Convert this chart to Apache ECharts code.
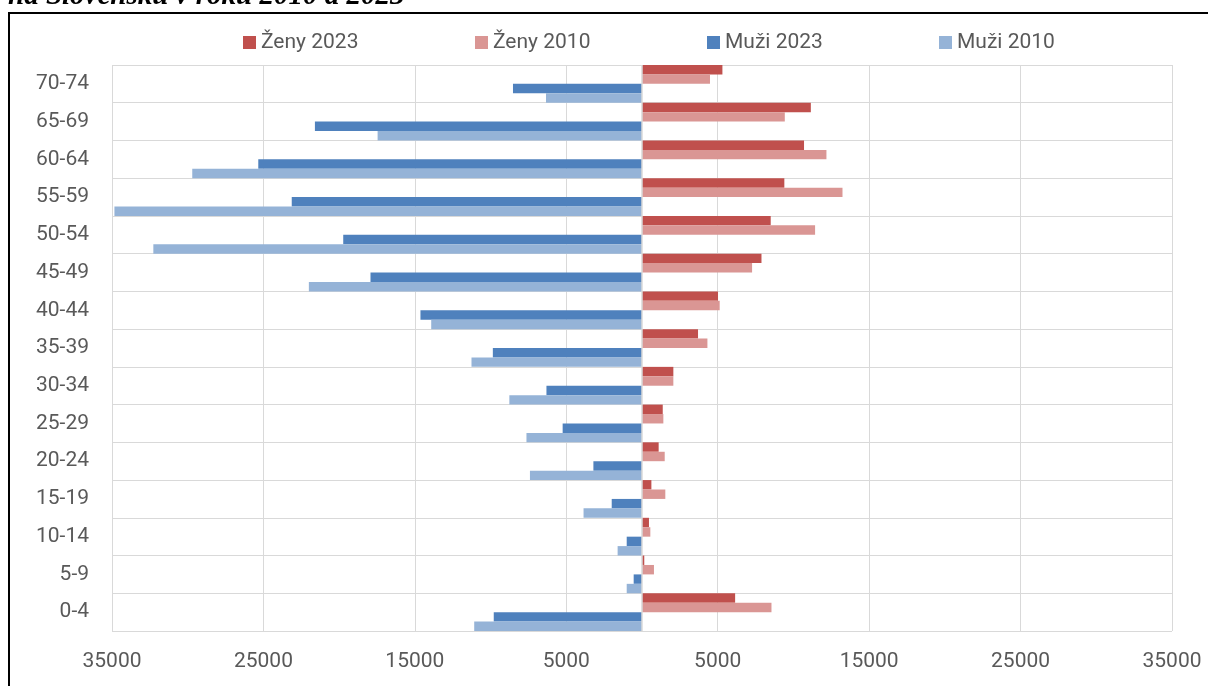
<!DOCTYPE html>
<html>
<head>
<meta charset="utf-8">
<script src="https://cdn.jsdelivr.net/npm/echarts@6/dist/echarts.min.js"></script>
<style>
html,body{margin:0;padding:0;background:#fff;}
#chart{width:1208px;height:686px;}
</style>
</head>
<body>
<div id="chart"></div>
<script>
const categories = ['0-4','5-9','10-14','15-19','20-24','25-29','30-34','35-39','40-44','45-49','50-54','55-59','60-64','65-69','70-74'];
const zeny2023 = [6150,150,460,620,1100,1370,2070,3700,5020,7890,8500,9400,10700,11150,5310];
const zeny2010 = [8550,790,550,1540,1500,1410,2070,4320,5130,7270,11430,13240,12180,9430,4490];
const muzi2023 = [9790,550,1010,2000,3210,5240,6310,9850,14630,17930,19730,23130,25340,21600,8520];
const muzi2010 = [11080,1010,1610,3860,7400,7630,8760,11260,13920,22000,32270,34840,29700,17460,6340];
const seriesNames = ['Ženy 2023','Ženy 2010','Muži 2023','Muži 2010'];
const xTicks = {min:-35000, max:35000, interval:10000};
const titleText = 'na Slovensku v roku 2010 a 2023';

const FONT = 'Roboto';
const TXT = '#595959';
const chart = echarts.init(document.getElementById('chart'));
const neg = a => a.map(v => -v);
const barBase = {type:'bar', barGap:'0%', barCategoryGap:'0%'};
const legendLefts = [238, 470, 702, 934];

chart.setOption({
  animation:false,
  textStyle:{fontFamily:FONT},
  graphic:[
    {type:'rect', shape:{x:9,y:13,width:1400,height:900}, style:{fill:'none', stroke:'#000', lineWidth:2}, z:0},
    {type:'text', style:{text:titleText, x:8, y:-3, fontSize:29, fontFamily:'Liberation Serif', fontWeight:'bold', fontStyle:'italic', fill:'#000', verticalAlign:'middle'}}
  ],
  legend: seriesNames.map((n, i) => ({
    left:legendLefts[i], top:27, itemWidth:13, itemHeight:13, icon:'rect',
    data:[n],
    textStyle:{color:TXT, fontSize:21, fontFamily:FONT}
  })),
  grid:{left:112, right:36, top:65, bottom:55, containLabel:false},
  xAxis:{
    type:'value', min:xTicks.min, max:xTicks.max, interval:xTicks.interval,
    axisLine:{show:false}, axisTick:{show:false},
    axisLabel:{color:TXT, fontSize:21, fontFamily:FONT, margin:20, formatter:v => String(Math.abs(v))},
    splitLine:{show:true, lineStyle:{color:'#d9d9d9', width:1}}
  },
  yAxis:{
    type:'category', data:categories,
    axisLine:{show:false, onZero:false}, axisTick:{show:false},
    axisLabel:{color:TXT, fontSize:21, fontFamily:FONT, margin:23},
    splitLine:{show:true, lineStyle:{color:'#d9d9d9', width:1}}
  },
  series:[
    Object.assign({}, barBase, {name:seriesNames[0], data:zeny2023, itemStyle:{color:'#C0504D'},
      markLine:{silent:true, symbol:'none', label:{show:false}, lineStyle:{color:'#d9d9d9', type:'solid', width:1.5}, data:[{xAxis:0}]}}),
    Object.assign({}, barBase, {name:seriesNames[1], data:zeny2010, itemStyle:{color:'#DA9694'}}),
    Object.assign({}, barBase, {name:seriesNames[2], data:neg(muzi2023), itemStyle:{color:'#4F81BD'}}),
    Object.assign({}, barBase, {name:seriesNames[3], data:neg(muzi2010), itemStyle:{color:'#95B3D7'}})
  ]
});
</script>
</body>
</html>
